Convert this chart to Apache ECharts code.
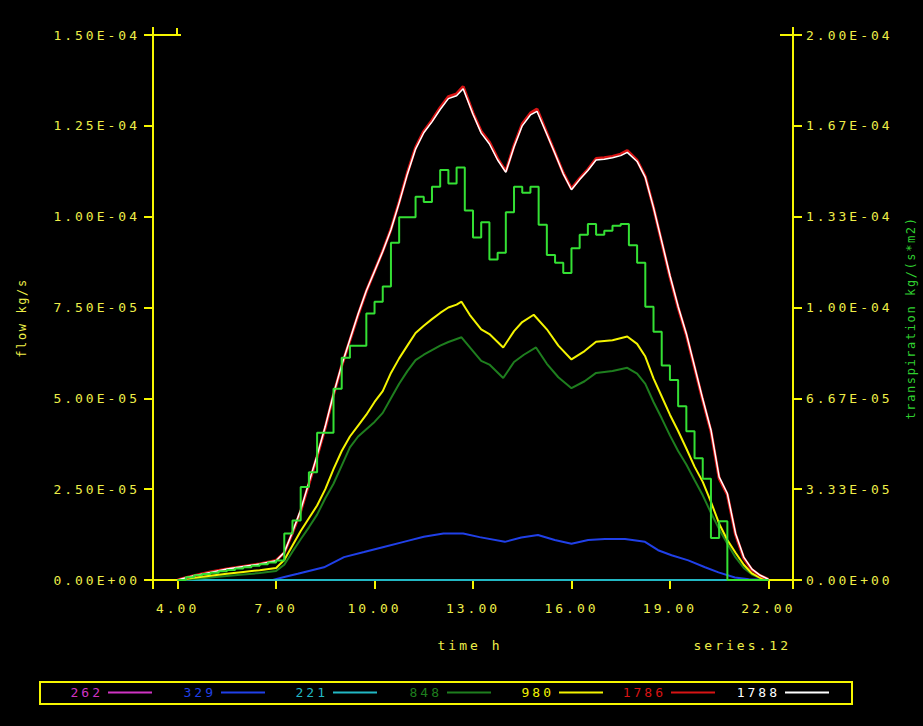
<!DOCTYPE html>
<html><head><meta charset="utf-8">
<script src="https://cdn.jsdelivr.net/npm/echarts@6/dist/echarts.min.js"></script>
<style>
html,body{margin:0;padding:0;background:#000;}
#c{width:923px;height:726px;background:#000;}
#c text{letter-spacing:3px;}
#c text[style*="12px"]{letter-spacing:1.6px;}
</style></head><body><div id="c"></div>
<script>
// ---- data ----
const xTicks = [4, 7, 10, 13, 16, 19, 22];
const xTickMarks = [3.25, 4, 7, 10, 13, 16, 19, 22, 22.75];
const yRightTicks = [0, 3.3333e-5, 6.6667e-5, 1.0e-4, 1.3333e-4, 1.6667e-4, 2.0e-4];
const seriesNames = ['262', '329', '221', '848', '980', '1786', '1788'];

const s262 = [[4,0],[22,0]];
const s221 = [[4,0],[22,0]];
const s329 = [[4,0],[6.9,0],[7.25,0.08e-5],[7.66,0.17e-5],[8,0.25e-5],[8.46,0.35e-5],[9.07,0.63e-5],[9.68,0.77e-5],[10.28,0.91e-5],[10.89,1.05e-5],[11.5,1.19e-5],[12.1,1.28e-5],[12.7,1.28e-5],[13.2,1.18e-5],[13.97,1.05e-5],[14.47,1.17e-5],[14.98,1.24e-5],[15.49,1.1e-5],[16,1.0e-5],[16.51,1.1e-5],[17.02,1.13e-5],[17.63,1.13e-5],[18.24,1.05e-5],[18.64,0.82e-5],[19.05,0.68e-5],[19.56,0.54e-5],[20.07,0.35e-5],[20.48,0.21e-5],[20.98,0.07e-5],[21.4,0.02e-5],[22,0]];
const s848 = [[4,0],[4.5,0.03e-5],[5,0.07e-5],[5.5,0.11e-5],[6,0.15e-5],[6.5,0.19e-5],[7,0.25e-5],[7.25,0.42e-5],[7.5,0.78e-5],[7.75,1.12e-5],[8,1.45e-5],[8.25,1.8e-5],[8.5,2.25e-5],[8.75,2.65e-5],[9,3.15e-5],[9.25,3.65e-5],[9.5,3.95e-5],[9.75,4.15e-5],[10,4.35e-5],[10.25,4.6e-5],[10.5,5.0e-5],[10.75,5.4e-5],[11,5.75e-5],[11.25,6.05e-5],[11.5,6.2e-5],[11.75,6.33e-5],[12,6.45e-5],[12.25,6.55e-5],[12.65,6.68e-5],[13,6.3e-5],[13.25,6.03e-5],[13.5,5.93e-5],[13.92,5.56e-5],[14.25,6.0e-5],[14.55,6.2e-5],[14.92,6.4e-5],[15.25,5.95e-5],[15.6,5.58e-5],[16,5.28e-5],[16.4,5.47e-5],[16.75,5.7e-5],[17.25,5.75e-5],[17.7,5.84e-5],[18,5.68e-5],[18.25,5.4e-5],[18.5,4.9e-5],[18.75,4.45e-5],[19,3.98e-5],[19.25,3.55e-5],[19.5,3.18e-5],[19.75,2.75e-5],[20,2.33e-5],[20.25,1.85e-5],[20.5,1.4e-5],[20.75,1.0e-5],[21,0.62e-5],[21.25,0.33e-5],[21.5,0.15e-5],[21.75,0.05e-5],[22,0.01e-5]];
const s980 = [[4,0],[4.5,0.06e-5],[5,0.12e-5],[5.5,0.17e-5],[6,0.22e-5],[6.5,0.27e-5],[7,0.33e-5],[7.25,0.55e-5],[7.5,0.95e-5],[7.75,1.35e-5],[8,1.7e-5],[8.25,2.05e-5],[8.5,2.5e-5],[8.75,3.05e-5],[9,3.55e-5],[9.25,3.95e-5],[9.5,4.25e-5],[9.75,4.55e-5],[10,4.9e-5],[10.25,5.2e-5],[10.5,5.7e-5],[10.75,6.1e-5],[11,6.45e-5],[11.25,6.8e-5],[11.5,7.0e-5],[11.75,7.18e-5],[12,7.35e-5],[12.25,7.5e-5],[12.5,7.58e-5],[12.65,7.66e-5],[12.9,7.3e-5],[13.25,6.9e-5],[13.5,6.77e-5],[13.92,6.4e-5],[14.25,6.85e-5],[14.5,7.1e-5],[14.85,7.3e-5],[15.25,6.9e-5],[15.6,6.45e-5],[16,6.07e-5],[16.4,6.3e-5],[16.75,6.56e-5],[17.25,6.6e-5],[17.7,6.7e-5],[18,6.5e-5],[18.25,6.15e-5],[18.5,5.55e-5],[18.75,5.05e-5],[19,4.55e-5],[19.25,4.1e-5],[19.5,3.62e-5],[19.75,3.12e-5],[20,2.7e-5],[20.25,2.15e-5],[20.5,1.55e-5],[20.75,1.1e-5],[21,0.75e-5],[21.25,0.42e-5],[21.5,0.18e-5],[21.75,0.06e-5],[22,0.01e-5]];
const s1786 = [[4,0],[4.25,0.06e-5],[4.5,0.12e-5],[5,0.22e-5],[5.5,0.3e-5],[6,0.37e-5],[6.5,0.44e-5],[7,0.54e-5],[7.25,0.75e-5],[7.5,1.3e-5],[7.75,1.9e-5],[8,2.65e-5],[8.25,3.4e-5],[8.5,4.2e-5],[8.75,5.1e-5],[9,5.9e-5],[9.25,6.6e-5],[9.5,7.3e-5],[9.75,7.95e-5],[10,8.5e-5],[10.25,9.05e-5],[10.5,9.65e-5],[10.75,10.4e-5],[11,11.2e-5],[11.25,11.9e-5],[11.5,12.35e-5],[11.75,12.65e-5],[12,13.0e-5],[12.25,13.3e-5],[12.5,13.38e-5],[12.7,13.58e-5],[13,12.85e-5],[13.25,12.35e-5],[13.5,12.05e-5],[13.75,11.6e-5],[14,11.25e-5],[14.25,11.95e-5],[14.5,12.55e-5],[14.75,12.85e-5],[14.95,12.96e-5],[15.25,12.3e-5],[15.5,11.75e-5],[15.75,11.2e-5],[16,10.77e-5],[16.25,11.05e-5],[16.5,11.3e-5],[16.75,11.6e-5],[17,11.62e-5],[17.25,11.66e-5],[17.5,11.72e-5],[17.7,11.82e-5],[18,11.55e-5],[18.25,11.1e-5],[18.5,10.25e-5],[18.75,9.3e-5],[19,8.35e-5],[19.25,7.5e-5],[19.5,6.75e-5],[19.75,5.85e-5],[20,4.95e-5],[20.25,4.1e-5],[20.5,2.8e-5],[20.75,2.35e-5],[21,1.25e-5],[21.25,0.6e-5],[21.5,0.28e-5],[21.75,0.12e-5],[22,0.02e-5]];
const s1788 = [[4,0],[4.25,0.06e-5],[4.5,0.12e-5],[5,0.21e-5],[5.5,0.3e-5],[6,0.37e-5],[6.5,0.44e-5],[7,0.53e-5],[7.25,0.76e-5],[7.5,1.32e-5],[7.75,1.93e-5],[8,2.68e-5],[8.25,3.43e-5],[8.5,4.23e-5],[8.75,5.12e-5],[9,5.92e-5],[9.25,6.62e-5],[9.5,7.32e-5],[9.75,7.96e-5],[10,8.5e-5],[10.25,9.04e-5],[10.5,9.64e-5],[10.75,10.38e-5],[11,11.17e-5],[11.25,11.86e-5],[11.5,12.31e-5],[11.75,12.61e-5],[12,12.95e-5],[12.25,13.25e-5],[12.5,13.33e-5],[12.7,13.52e-5],[13,12.82e-5],[13.25,12.3e-5],[13.5,12.0e-5],[13.75,11.56e-5],[14,11.22e-5],[14.25,11.92e-5],[14.5,12.5e-5],[14.75,12.8e-5],[14.95,12.9e-5],[15.25,12.27e-5],[15.5,11.73e-5],[15.75,11.18e-5],[16,10.74e-5],[16.25,11.02e-5],[16.5,11.27e-5],[16.75,11.56e-5],[17,11.58e-5],[17.25,11.62e-5],[17.5,11.68e-5],[17.7,11.77e-5],[18,11.52e-5],[18.25,11.08e-5],[18.5,10.25e-5],[18.75,9.32e-5],[19,8.38e-5],[19.25,7.53e-5],[19.5,6.78e-5],[19.75,5.88e-5],[20,4.98e-5],[20.25,4.13e-5],[20.5,2.84e-5],[20.75,2.38e-5],[21,1.28e-5],[21.25,0.63e-5],[21.5,0.3e-5],[21.75,0.13e-5],[22,0.02e-5]];
// transpiration (right axis), step values held for each quarter hour
const transp = [[4,0],[4.25,0.1e-5],[4.5,0.17e-5],[4.75,0.22e-5],[5,0.27e-5],[5.25,0.32e-5],[5.5,0.37e-5],[5.75,0.42e-5],[6,0.47e-5],[6.25,0.52e-5],[6.5,0.58e-5],[6.75,0.64e-5],[7,0.72e-5],[7.25,1.71e-5],[7.5,2.18e-5],[7.75,3.41e-5],[8,3.95e-5],[8.25,5.4e-5],[8.5,5.4e-5],[8.75,7.02e-5],[9,8.16e-5],[9.25,8.6e-5],[9.5,8.6e-5],[9.75,9.78e-5],[10,10.21e-5],[10.25,10.77e-5],[10.5,12.38e-5],[10.75,13.31e-5],[11,13.31e-5],[11.25,14.06e-5],[11.5,13.87e-5],[11.75,14.43e-5],[12,15.05e-5],[12.25,14.55e-5],[12.5,15.14e-5],[12.75,13.56e-5],[13,12.57e-5],[13.25,13.13e-5],[13.5,11.76e-5],[13.75,12.01e-5],[14,13.5e-5],[14.25,14.43e-5],[14.5,14.21e-5],[14.75,14.43e-5],[15,13.04e-5],[15.25,11.93e-5],[15.5,11.64e-5],[15.75,11.27e-5],[16,12.17e-5],[16.25,12.67e-5],[16.5,13.06e-5],[16.75,12.67e-5],[17,12.82e-5],[17.25,13.0e-5],[17.5,13.06e-5],[17.75,12.28e-5],[18,11.64e-5],[18.25,10.03e-5],[18.5,9.11e-5],[18.75,7.87e-5],[19,7.34e-5],[19.25,6.38e-5],[19.5,5.46e-5],[19.75,4.47e-5],[20,3.72e-5],[20.25,1.54e-5],[20.5,2.16e-5],[20.75,0],[22,0]];

// ---- style ----
const AX = '#f6f600';
const TX = '#eeee48';
const FONT = '"DejaVu Sans Mono", monospace';
const colors = ['#d034c4', '#2040e8', '#22b8c4', '#1e7e1e', '#f4f400', '#d81414', '#ffffff'];
const widths = [2, 2, 2, 2, 2, 3, 1.5];
const seriesData = [s262, s329, s221, s848, s980, s1786, s1788];
const legendRight = [771, 658, 546, 432, 320, 208, 94];

function fmtE(v) {
  if (Math.abs(v) < 1e-12) return '0.00E+00';
  let e = Math.floor(Math.log10(Math.abs(v)));
  let m = v / Math.pow(10, e);
  if (m.toFixed(2) === '10.00') { m /= 10; e += 1; }
  return m.toFixed(2) + 'E' + (e < 0 ? '-' : '+') + String(Math.abs(e)).padStart(2, '0');
}

const labelStyle = { color: TX, fontFamily: FONT, fontSize: 13 };
const lineSeg = (x1, y1, x2, y2) => ({ type: 'line', shape: { x1, y1, x2, y2 }, style: { stroke: AX, lineWidth: 2 }, silent: true });

const chart = echarts.init(document.getElementById('c'), null, { renderer: 'svg' });
const series = seriesNames.map((n, i) => ({
  name: n, type: 'line', data: seriesData[i], showSymbol: false, symbol: 'none',
  lineStyle: { color: colors[i], width: widths[i] }, itemStyle: { color: colors[i] },
  animation: false, z: 2 + i
}));
series.push({
  name: 'transpiration', type: 'line', yAxisIndex: 1, step: 'end', data: transp,
  showSymbol: false, symbol: 'none', lineStyle: { color: '#34e034', width: 2 },
  itemStyle: { color: '#34e034' }, animation: false, z: 10
});

chart.setOption({
  backgroundColor: '#000',
  animation: false,
  grid: { left: 153, right: 130, top: 35, bottom: 146 },
  xAxis: {
    type: 'value', min: 3.25, max: 22.75,
    axisLine: { show: true, onZero: false, lineStyle: { color: AX, width: 2 } },
    axisTick: { show: true, customValues: xTickMarks, length: 9, lineStyle: { color: AX, width: 2 } },
    axisLabel: Object.assign({ customValues: xTicks, formatter: v => v.toFixed(2), margin: 22 }, labelStyle),
    splitLine: { show: false }
  },
  yAxis: [{
    type: 'value', position: 'left', min: 0, max: 1.5e-4, interval: 2.5e-5,
    axisLine: { show: true, lineStyle: { color: AX, width: 2 } },
    axisTick: { show: true, length: 9, lineStyle: { color: AX, width: 2 } },
    axisLabel: Object.assign({ formatter: fmtE, margin: 13 }, labelStyle),
    splitLine: { show: false }
  }, {
    type: 'value', position: 'right', min: 0, max: 2e-4,
    axisLine: { show: true, lineStyle: { color: AX, width: 2 } },
    axisTick: { show: true, customValues: yRightTicks, length: 9, lineStyle: { color: AX, width: 2 } },
    axisLabel: Object.assign({ customValues: yRightTicks, formatter: fmtE, margin: 13 }, labelStyle),
    splitLine: { show: false }
  }],
  legend: seriesNames.map((n, i) => ({
    data: [{ name: n, textStyle: { color: colors[i] } }],
    right: legendRight[i], top: 686, padding: 0, align: 'right',
    itemWidth: 44, itemHeight: 2, icon: 'rect', selectedMode: false,
    textStyle: { fontFamily: FONT, fontSize: 13 }
  })),
  graphic: [
    { type: 'text', x: 22, y: 318, rotation: Math.PI / 2, style: { text: 'flow kg/s', fill: TX, font: '12px ' + FONT, align: 'center', verticalAlign: 'middle' } },
    { type: 'text', x: 911, y: 318, rotation: Math.PI / 2, style: { text: 'transpiration kg/(s*m2)', fill: '#30d030', font: '12px ' + FONT, align: 'center', verticalAlign: 'middle' } },
    { type: 'text', x: 470, y: 645, style: { text: 'time h', fill: TX, font: '13px ' + FONT, align: 'center', verticalAlign: 'middle' } },
    { type: 'text', x: 791, y: 645, style: { text: 'series.12', fill: TX, font: '13px ' + FONT, align: 'right', verticalAlign: 'middle' } },
    { type: 'rect', shape: { x: 40, y: 682, width: 812, height: 22 }, style: { fill: 'none', stroke: AX, lineWidth: 2 }, silent: true },
    lineSeg(144, 35, 181, 35), lineSeg(153, 27, 153, 35), lineSeg(177, 28, 177, 35),
    lineSeg(780, 35, 801, 35), lineSeg(793, 27, 793, 35)
  ],
  series
});
</script></body></html>
